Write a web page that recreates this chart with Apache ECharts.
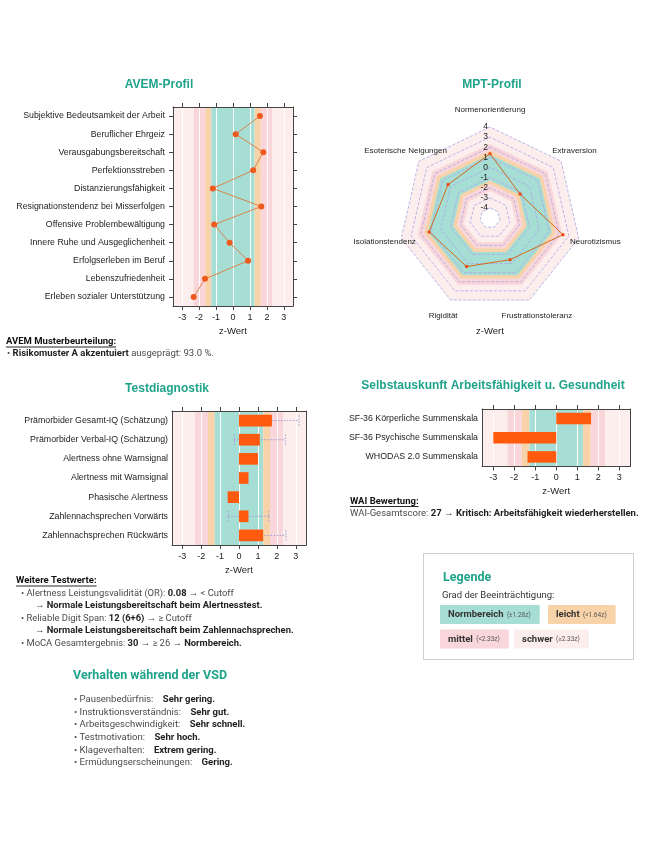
<!DOCTYPE html>
<html><head><meta charset="utf-8">
<script src="https://cdn.jsdelivr.net/npm/echarts@6/dist/echarts.min.js"></script>
<style>html,body{margin:0;padding:0;background:#fff}#c{width:650px;height:867px}</style>
</head><body><div id="c"></div><script>
// ---------------- DATA ----------------
const avemCategories = ['Subjektive Bedeutsamkeit der Arbeit','Beruflicher Ehrgeiz','Verausgabungsbereitschaft','Perfektionsstreben','Distanzierungsfähigkeit','Resignationstendenz bei Misserfolgen','Offensive Problembewältigung','Innere Ruhe und Ausgeglichenheit','Erfolgserleben im Beruf','Lebenszufriedenheit','Erleben sozialer Unterstützung'];
const avemValues = [1.59, 0.16, 1.79, 1.19, -1.19, 1.67, -1.11, -0.20, 0.89, -1.65, -2.32];

const mptAxes = ['Normenorientierung','Extraversion','Neurotizismus','Frustrationstoleranz','Rigidität','Isolationstendenz','Esoterische Neigungen'];
const mptValues = [1.36, -1.20, 2.40, -0.42, 0.33, 1.18, 0.30];
const mptTicks = [-4,-3,-2,-1,0,1,2,3,4];
const mptMin = -5, mptMax = 4;

const testCategories = ['Prämorbider Gesamt-IQ (Schätzung)','Prämorbider Verbal-IQ (Schätzung)','Alertness ohne Warnsignal','Alertness mit Warnsignal','Phasische Alertness','Zahlennachsprechen Vorwärts','Zahlennachsprechen Rückwärts'];
const testValues = [1.74, 1.10, 1.00, 0.50, -0.60, 0.50, 1.28];
const testCILow  = [0.31, -0.25, null, null, null, -0.57, 0.08];
const testCIHigh = [3.17, 2.45, null, null, null, 1.57, 2.48];

const selbstCategories = ['SF-36 Körperliche Summenskala','SF-36 Psychische Summenskala','WHODAS 2.0 Summenskala'];
const selbstValues = [1.66, -3.00, -1.37];

const zTicks = [-3,-2,-1,0,1,2,3];
const zLimit = 3.54;
const cutNormal = 1.28, cutLeicht = 1.64, cutMittel = 2.33;

// ---------------- STYLE ----------------
const F = '"Liberation Sans", Arial, sans-serif';
const R = 'Roboto, sans-serif';
const TEAL = '#1FA38B';
const bandColors = {normal:'#A6DDD4', leicht:'#F8D2A9', mittel:'#F8D6D9', schwer:'#FDEEEE', inner:'#FFFFFF'};
const bandEdges = [-zLimit, -cutMittel, -cutLeicht, -cutNormal, cutNormal, cutLeicht, cutMittel, zLimit];
const bandKinds = ['schwer','mittel','leicht','normal','leicht','mittel','schwer'];
const AX = '#444';

function bandsSeries(ai) {
  return {
    type:'custom', xAxisIndex: ai, yAxisIndex: ai, silent:true, z:1, clip:false,
    data: bandKinds.map((k,i)=>[bandEdges[i], bandEdges[i+1]]),
    encode:{x:[0,1]},
    renderItem(params, api){
      const cs = params.coordSys;
      const a = api.coord([api.value(0), 0])[0];
      const b = api.coord([api.value(1), 0])[0];
      return {type:'rect', shape:{x:a, y:cs.y, width:b-a, height:cs.height}, style:{fill: bandColors[bandKinds[params.dataIndex]]}};
    }
  };
}
function gridLineSeries(ai) {
  return {
    type:'custom', xAxisIndex: ai, yAxisIndex: ai, silent:true, z:2,
    data: zTicks.map(t=>[t]), encode:{x:0},
    renderItem(params, api){
      const cs = params.coordSys;
      const x = Math.round(api.coord([api.value(0), 0])[0]) + 0.5;
      return {type:'line', shape:{x1:x, y1:cs.y, x2:x, y2:cs.y+cs.height}, style:{stroke:'rgba(255,255,255,0.95)', lineWidth:1}};
    }
  };
}
function xAxes(gi, showName) {
  const base = {gridIndex:gi, type:'value', min:-zLimit, max:zLimit, z:5,
    axisLine:{show:true, onZero:false, lineStyle:{color:AX, width:1}},
    axisTick:{show:true, inside:false, length:4, customValues:zTicks, lineStyle:{color:AX}},
    splitLine:{show:false}};
  return [
    Object.assign({}, base, {position:'bottom',
      axisLabel:{show:true, customValues:zTicks, margin:7, fontSize:9, fontFamily:F, color:'#222'},
      name: showName ? 'z-Wert' : '', nameLocation:'middle', nameGap:20,
      nameTextStyle:{fontSize:9.5, fontFamily:F, color:'#222', verticalAlign:'top'}}),
    Object.assign({}, base, {position:'top', axisLabel:{show:false}})
  ];
}
function yAxes(gi, cats, leftTicks, rightTicks, margin) {
  const base = {gridIndex:gi, type:'category', data:cats, inverse:true, z:5,
    axisLine:{show:true, onZero:false, lineStyle:{color:AX, width:1}}, splitLine:{show:false}};
  return [
    Object.assign({}, base, {position:'left',
      axisTick:{show:leftTicks, alignWithLabel:true, length:4, lineStyle:{color:AX}},
      axisLabel:{show:true, margin:margin, fontSize:8.8, fontFamily:F, color:'#222', interval:0}}),
    Object.assign({}, base, {position:'right',
      axisTick:{show:rightTicks, alignWithLabel:true, length:4, lineStyle:{color:AX}},
      axisLabel:{show:false}})
  ];
}

// radar indicators are laid out counter-clockwise in ECharts; reference is clockwise
const radarOrder = [0, 6, 5, 4, 3, 2, 1];
const radarRings = [
  {v: mptMax, k:'schwer'}, {v: cutMittel, k:'mittel'}, {v: cutLeicht, k:'leicht'}, {v: cutNormal, k:'normal'},
  {v: -cutNormal, k:'leicht'}, {v: -cutLeicht, k:'mittel'}, {v: -cutMittel, k:'schwer'}, {v: mptTicks[0], k:'inner'}
];
const full = v => radarOrder.map(() => v);

// text measurement for underlines
const mctx = document.createElement('canvas').getContext('2d');
function tw(text, font){ mctx.font = font; return mctx.measureText(text).width; }

function makeRich(size) {
  return {
    n:{fontFamily:R, fontSize:size, fill:'#4a4a4a'},
    b:{fontFamily:R, fontSize:size, fontWeight:'bold', fill:'#222'},
    s:{fontFamily:R, fontSize:6.5, fill:'#555'},
    lb:{fontFamily:R, fontSize:9.5, fontWeight:'bold', fill:'#333'}
  };
}
const bodyRich = makeRich(9.5);
const bodyRich2 = makeRich(9.4);
function rtext(x, y, text, rich) {
  return {type:'text', x, y, silent:true, style:{text, rich: rich || bodyRich, verticalAlign:'middle', align:'left'}};
}
function heading(x, y, text) {
  const font = 'bold 9.5px Roboto';
  const w = tw(text, font);
  return [
    {type:'text', x, y, silent:true, style:{text, font, fill:'#111', verticalAlign:'middle'}},
    {type:'line', silent:true, shape:{x1:x, y1:y+5, x2:x+w, y2:y+5}, style:{stroke:'#111', lineWidth:0.9}}
  ];
}
function title(x, y, text, font, align) {
  return {type:'text', x, y, silent:true, style:{text, font: font || ('bold 12px ' + F), fill:TEAL, align: align || 'center', verticalAlign:'middle'}};
}
function swatch(x, y, label, note, color) {
  return {type:'text', x, y, silent:true, style:{
    text:'{lb|' + label + '} {s|' + note + '}', rich:bodyRich, backgroundColor:color,
    padding:[4,9,3,8], verticalAlign:'top', align:'left', borderRadius:1}};
}

const verhalten = [
  ['Pausenbedürfnis:', 'Sehr gering.'],
  ['Instruktionsverständnis:', 'Sehr gut.'],
  ['Arbeitsgeschwindigkeit:', 'Sehr schnell.'],
  ['Testmotivation:', 'Sehr hoch.'],
  ['Klageverhalten:', 'Extrem gering.'],
  ['Ermüdungserscheinungen:', 'Gering.']
];

const graphics = [
  title(159, 85, 'AVEM-Profil'),
  title(492, 85, 'MPT-Profil'),
  title(167, 389, 'Testdiagnostik'),
  title(493, 386, 'Selbstauskunft Arbeitsfähigkeit u. Gesundheit'),
  {type:'text', x:490, y:331.5, silent:true, style:{text:'z-Wert', font:'9.5px ' + F, fill:'#222', align:'center', verticalAlign:'middle'}},
  ...heading(6, 342, 'AVEM Musterbeurteilung:'),
  rtext(7, 353.5, '{n|• }{b|Risikomuster A akzentuiert}{n| ausgeprägt: 93.0 %.}'),
  ...heading(350, 501.5, 'WAI Bewertung:'),
  rtext(350, 513.5, '{n|WAI-Gesamtscore: }{b|27}{n| → }{b|Kritisch: Arbeitsfähigkeit wiederherstellen.}'),
  ...heading(16, 581, 'Weitere Testwerte:'),
  rtext(21, 593.3, '{n|• Alertness Leistungsvalidität (OR): }{b|0.08}{n| → < Cutoff}', bodyRich2),
  rtext(35, 605.5, '{n|→ }{b|Normale Leistungsbereitschaft beim Alertnesstest.}', bodyRich2),
  rtext(21, 618.3, '{n|• Reliable Digit Span: }{b|12 (6+6)}{n| → ≥ Cutoff}', bodyRich2),
  rtext(35, 630.7, '{n|→ }{b|Normale Leistungsbereitschaft beim Zahlennachsprechen.}', bodyRich2),
  rtext(21, 643.3, '{n|• MoCA Gesamtergebnis: }{b|30}{n| → ≥ 26 → }{b|Normbereich.}', bodyRich2),
  {type:'rect', silent:true, shape:{x:423.5, y:553.5, width:210, height:106}, style:{fill:'#fff', stroke:'#cfcfcf', lineWidth:1}},
  {type:'text', x:443, y:577.5, silent:true, style:{text:'Legende', font:'bold 12.5px Roboto', fill:TEAL, verticalAlign:'middle'}},
  {type:'text', x:442, y:596, silent:true, style:{text:'Grad der Beeinträchtigung:', font:'9.5px Roboto', fill:'#333', verticalAlign:'middle'}},
  swatch(440, 605, 'Normbereich', '(±1.28z)', bandColors.normal),
  swatch(548, 605, 'leicht', '(<1.64z)', bandColors.leicht),
  swatch(440, 629.5, 'mittel', '(<2.33z)', bandColors.mittel),
  swatch(514, 629.5, 'schwer', '(≥2.33z)', bandColors.schwer),
  title(73, 676, 'Verhalten während der VSD', 'bold 12.5px Roboto', 'left')
];
verhalten.forEach((r, i) => {
  graphics.push(rtext(74, 700 + i * 12.55, '{n|• ' + r[0] + '    }{b|' + r[1] + '}'));
});

const option = {
  animation:false,
  backgroundColor:'#fff',
  grid:[
    {left:173, top:107, width:120, height:199},
    {left:172, top:411, width:134, height:134},
    {left:482, top:409, width:148.5, height:57.5}
  ],
  xAxis:[...xAxes(0, true), ...xAxes(1, true), ...xAxes(2, true)],
  yAxis:[...yAxes(0, avemCategories, true, true, 8), ...yAxes(1, testCategories, false, false, 4), ...yAxes(2, selbstCategories, false, false, 4)],
  radar:{
    z:10,
    center:[490, 218], radius:91, startAngle:90, shape:'polygon', splitNumber: mptMax - mptMin,
    indicator: radarOrder.map((k, j) => Object.assign({name: mptAxes[k], min: mptMin, max: mptMax}, j === 0 ? {axisLabel:{show:true}} : {})),
    nameGap:17,
    axisName:{color:'#222', fontSize:8, fontFamily:F, align:'center', verticalAlign:'middle'},
    splitLine:{show:false}, splitArea:{show:false}, axisLine:{show:false}, axisTick:{show:false},
    axisLabel:{show:false, fontSize:8.5, color:'#222', fontFamily:F, margin:2, showMinLabel:false, hideOverlap:false, formatter: v => (v === mptMin ? '' : String(v))}
  },
  graphic: graphics,
  series:[
    bandsSeries(0), gridLineSeries(0),
    {type:'line', xAxisIndex:0, yAxisIndex:0, z:4, data: avemValues, symbol:'circle', symbolSize:6,
      lineStyle:{color:'#D9854A', width:1}, itemStyle:{color:'#EE5A1E'}},
    bandsSeries(2), gridLineSeries(2),
    {type:'custom', xAxisIndex:2, yAxisIndex:2, z:3, silent:true,
      data: testCILow.map((l, i) => [l, testCIHigh[i], i]).filter(d => d[0] != null),
      encode:{x:[0,1], y:2},
      renderItem(params, api){
        const y = api.value(2);
        const p0 = api.coord([api.value(0), y]);
        const p1 = api.coord([api.value(1), y]);
        const h = api.size([0, 1])[1] * 0.55;
        const st = {stroke:'#9F9FD2', lineWidth:1, lineDash:[1.5, 1.5]};
        return {type:'group', children:[
          {type:'line', shape:{x1:p0[0], y1:p0[1], x2:p1[0], y2:p1[1]}, style:st},
          {type:'line', shape:{x1:p0[0], y1:p0[1]-h/2, x2:p0[0], y2:p0[1]+h/2}, style:st},
          {type:'line', shape:{x1:p1[0], y1:p1[1]-h/2, x2:p1[0], y2:p1[1]+h/2}, style:st}
        ]};
      }},
    {type:'bar', xAxisIndex:2, yAxisIndex:2, z:4, data: testValues, barWidth:'61%', itemStyle:{color:'#FF5A0D'}},
    bandsSeries(4), gridLineSeries(4),
    {type:'bar', xAxisIndex:4, yAxisIndex:4, z:4, data: selbstValues, barWidth:'60%', itemStyle:{color:'#FF5A0D'}},
    {type:'radar', z:1, silent:true, symbol:'none',
      data: radarRings.map(r => ({value: full(r.v), areaStyle:{color: bandColors[r.k], opacity:1}, lineStyle:{width:0, opacity:0}}))},
    {type:'radar', z:2, silent:true, symbol:'none',
      data: mptTicks.map(v => ({value: full(v), lineStyle:{type:'dashed', color:'#A9A6E6', width:0.8}}))},
    {type:'radar', z:3, symbol:'circle', symbolSize:3.5,
      lineStyle:{color:'#D2691E', width:1}, itemStyle:{color:'#E8501A'},
      data:[{value: radarOrder.map(k => mptValues[k])}]}
  ]
};
const chart = echarts.init(document.getElementById('c'), null, {renderer:'canvas'});
chart.setOption(option);
</script></body></html>
